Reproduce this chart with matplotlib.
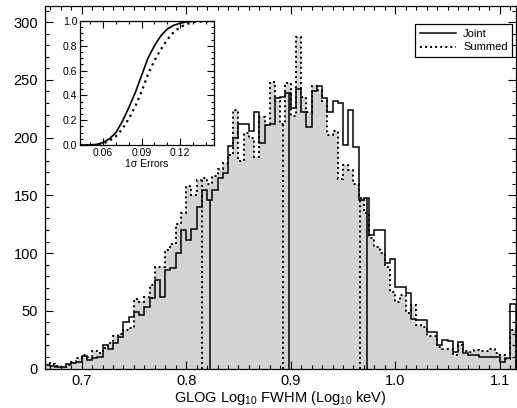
import numpy as np
import matplotlib
matplotlib.use('Agg')
import matplotlib.pyplot as plt
from matplotlib.ticker import MultipleLocator
from matplotlib.lines import Line2D

plt.rcParams['font.family'] = ['Liberation Sans', 'DejaVu Sans']
plt.rcParams['mathtext.fontset'] = 'custom'
plt.rcParams['mathtext.rm'] = 'Liberation Sans'
plt.rcParams['mathtext.it'] = 'Liberation Sans:italic'
plt.rcParams['mathtext.bf'] = 'Liberation Sans:bold'

# histogram of GLOG log10 FWHM, 0.005 wide bins from 0.665 to 1.115
bin_start = 0.665
bin_width = 0.005
joint_counts = [3, 2, 1, 1, 4, 5, 6, 11, 7, 9,
                10, 20, 17, 22, 27, 40, 45, 49, 46, 53,
                61, 77, 62, 85, 87, 100, 120, 111, 121, 140,
                155, 146, 155, 165, 169, 193, 200, 212, 212, 206,
                222, 195, 211, 212, 234, 235, 239, 226, 242, 222,
                209, 240, 245, 234, 222, 232, 230, 194, 224, 192,
                146, 148, 116, 120, 120, 91, 95, 71, 71, 65,
                43, 42, 42, 32, 32, 20, 25, 24, 14, 23,
                13, 12, 12, 10, 10, 10, 10, 6, 9, 56]
summed_counts = [5, 4, 2, 1, 3, 6, 9, 12, 10, 15,
                 13, 18, 22, 28, 30, 33, 35, 60, 58, 62,
                 72, 88, 88, 103, 108, 125, 135, 158, 150, 163,
                 165, 160, 167, 173, 178, 185, 224, 180, 204, 200,
                 183, 218, 211, 248, 232, 212, 247, 219, 287, 235,
                 222, 245, 241, 232, 202, 206, 164, 176, 172, 160,
                 148, 135, 113, 105, 100, 88, 66, 58, 64, 48,
                 55, 38, 36, 28, 28, 19, 17, 17, 12, 20,
                 15, 14, 16, 15, 15, 17, 13, 12, 8, 33]
edges = bin_start + bin_width * np.arange(len(joint_counts) + 1)

# 16th / 50th / 84th percentiles
joint_pct = [0.8226, 0.8984, 0.9729]
summed_pct = [0.8156, 0.8923, 0.9665]

# cumulative distribution of 1 sigma errors (inset)
err_x = [0.042, 0.050, 0.055, 0.060, 0.065, 0.070, 0.075, 0.080, 0.085, 0.090,
         0.095, 0.100, 0.105, 0.110, 0.115, 0.120, 0.125, 0.130, 0.135, 0.140, 0.1465]
joint_cdf = [0.0, 0.0, 0.005, 0.02, 0.05, 0.10, 0.19, 0.30, 0.42, 0.56,
             0.70, 0.80, 0.88, 0.935, 0.965, 0.982, 0.992, 0.997, 0.999, 1.0, 1.0]
summed_cdf = [0.0, 0.0, 0.0, 0.01, 0.035, 0.07, 0.13, 0.21, 0.31, 0.43,
              0.57, 0.68, 0.77, 0.85, 0.91, 0.95, 0.975, 0.99, 0.995, 0.998, 1.0]

dots = (0, (1, 1.6))

fig = plt.figure(figsize=(5.17, 4.08), dpi=100)
ax = fig.add_axes([45 / 517, 1 - 368.5 / 408, 470.5 / 517, 362.5 / 408])

ax.stairs(summed_counts, edges, fill=True, color='#d3d3d3', lw=0)
ax.stairs(joint_counts, edges, color='k', lw=1.1)
ax.stairs(summed_counts, edges, color='k', lw=1.4, linestyle=dots)


def height_at(x, counts):
    i = np.searchsorted(edges, x) - 1
    return counts[i]


for p in joint_pct:
    ax.vlines(p, 0, height_at(p, joint_counts), color='k', lw=1.1)
for p in summed_pct:
    ax.vlines(p, 0, height_at(p, summed_counts), color='k', lw=1.4, linestyles=[dots])

ax.set_xlim(0.665, 1.115)
ax.set_ylim(0, 314)
ax.xaxis.set_major_locator(MultipleLocator(0.1))
ax.xaxis.set_minor_locator(MultipleLocator(0.01))
ax.yaxis.set_major_locator(MultipleLocator(50))
ax.yaxis.set_minor_locator(MultipleLocator(10))
ax.tick_params(which='both', direction='in', top=True, right=True, labelsize=10.5)
ax.tick_params(which='major', length=6, width=0.8)
ax.tick_params(which='minor', length=3, width=0.8)
ax.tick_params(axis='x', pad=4)
ax.tick_params(axis='y', pad=5)
for s in ax.spines.values():
    s.set_linewidth(0.9)
ax.set_xlabel('GLOG Log$_{10}$ FWHM (Log$_{10}$ keV)', fontsize=10.5, labelpad=1)

handles = [Line2D([], [], color='k', lw=1.1),
           Line2D([], [], color='k', lw=1.4, linestyle=dots)]
leg = ax.legend(handles, ['Joint', 'Summed'], loc='upper right',
                bbox_to_anchor=(0.993, 0.95), borderaxespad=0, fontsize=8,
                fancybox=False, edgecolor='k', framealpha=1,
                handlelength=3.3, handletextpad=0.6, borderpad=0.4, labelspacing=0.35)
leg.get_frame().set_linewidth(0.9)

# inset: error distributions
ins = fig.add_axes([80 / 517, 1 - 145 / 408, 134 / 517, 124 / 408])
ins.plot(err_x, joint_cdf, color='k', lw=1.2)
ins.plot(err_x, summed_cdf, color='k', lw=1.6, linestyle=(0, (1, 1.8)))
ins.set_xlim(0.042, 0.1465)
ins.set_ylim(0, 1)
ins.xaxis.set_major_locator(MultipleLocator(0.03))
ins.xaxis.set_minor_locator(MultipleLocator(0.01))
ins.yaxis.set_major_locator(MultipleLocator(0.2))
ins.yaxis.set_minor_locator(MultipleLocator(0.05))
ins.tick_params(which='both', direction='in', top=True, right=True, labelsize=7.5, pad=2)
ins.tick_params(which='major', length=5, width=0.8)
ins.tick_params(which='minor', length=2.5, width=0.8)
for s in ins.spines.values():
    s.set_linewidth(0.9)
ins.set_xlabel('1σ Errors', fontsize=7.5, labelpad=1)

fig.savefig('out.png', dpi=100)
